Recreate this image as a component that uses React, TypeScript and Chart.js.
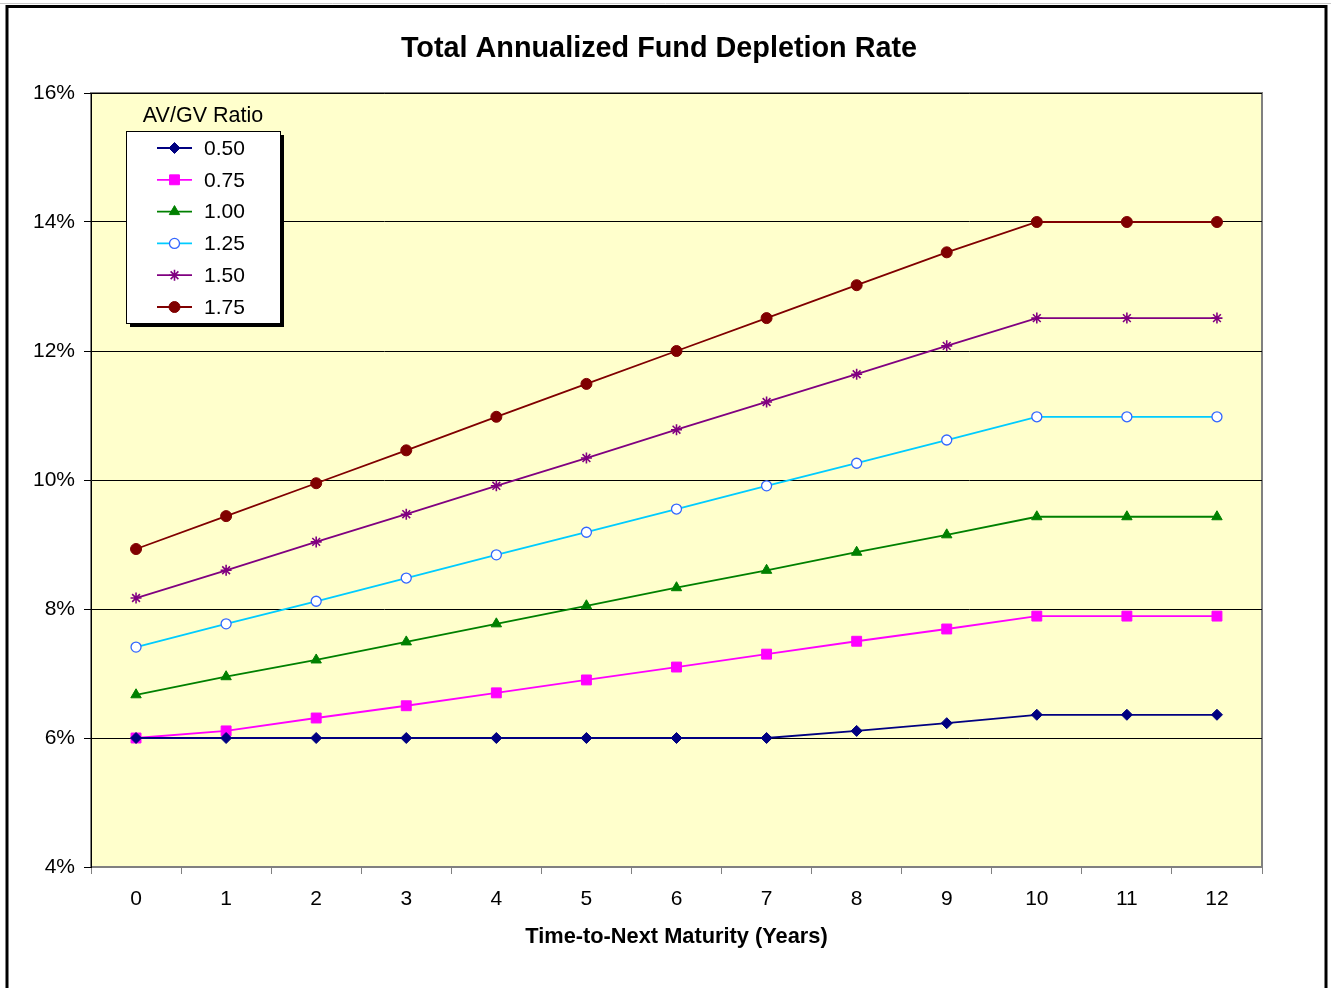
import React, { useEffect, useRef } from 'react';
import { Chart, registerables } from 'chart.js';
import { drawPoint } from 'chart.js/helpers';

Chart.register(...registerables);

const FONT = "'Liberation Sans', Arial, sans-serif";

const chartTitle = 'Total Annualized Fund Depletion Rate';
const xAxisTitle = 'Time-to-Next Maturity (Years)';
const legendTitle = 'AV/GV Ratio';

const years = ['0', '1', '2', '3', '4', '5', '6', '7', '8', '9', '10', '11', '12'];

const seriesLabels = ['0.50', '0.75', '1.00', '1.25', '1.50', '1.75'];

const ratio050 = [6.0, 6.0, 6.0, 6.0, 6.0, 6.0, 6.0, 6.0, 6.11, 6.23, 6.36, 6.36, 6.36];
const ratio075 = [6.0, 6.11, 6.31, 6.5, 6.7, 6.9, 7.1, 7.3, 7.5, 7.69, 7.89, 7.89, 7.89];
const ratio100 = [6.67, 6.95, 7.21, 7.49, 7.77, 8.05, 8.33, 8.6, 8.88, 9.15, 9.43, 9.43, 9.43];
const ratio125 = [7.41, 7.77, 8.12, 8.48, 8.84, 9.19, 9.55, 9.91, 10.26, 10.62, 10.98, 10.98, 10.98];
const ratio150 = [8.17, 8.6, 9.04, 9.47, 9.91, 10.34, 10.78, 11.21, 11.64, 12.08, 12.51, 12.51, 12.51];
const ratio175 = [8.93, 9.44, 9.95, 10.46, 10.98, 11.49, 12.0, 12.51, 13.02, 13.53, 14.0, 14.0, 14.0];

const yMin = 4;
const yMax = 16;
const yStep = 2;

const bgPlugin = {
  id: 'bgPlugin',
  beforeDraw(chart: any) {
    const { ctx, chartArea: a } = chart;
    ctx.save();
    ctx.fillStyle = '#ffffff';
    ctx.fillRect(0, 0, chart.width, chart.height);
    // outer border
    ctx.strokeStyle = '#c8c8c8';
    ctx.lineWidth = 1;
    ctx.beginPath();
    ctx.moveTo(0, 3.5);
    ctx.lineTo(chart.width, 3.5);
    ctx.stroke();
    ctx.strokeStyle = '#000000';
    ctx.lineWidth = 3;
    ctx.strokeRect(7, 6.5, 1319, 1100);
    // plot area
    ctx.fillStyle = '#ffffcc';
    ctx.fillRect(a.left, a.top, a.right - a.left, a.bottom - a.top);
    ctx.strokeStyle = '#808080';
    ctx.lineWidth = 2;
    ctx.strokeRect(a.left, a.top, a.right - a.left, a.bottom - a.top);
    ctx.restore();
  },
  afterDraw(chart: any) {
    const { ctx } = chart;
    ctx.save();
    // chart title
    ctx.fillStyle = '#000';
    ctx.font = `bold 28.8px ${FONT}`;
    ctx.textAlign = 'center';
    ctx.textBaseline = 'middle';
    ctx.fillText(chartTitle, 659, 49.5);

    // legend
    const bx = 126, by = 131, bw = 154, bh = 192;
    ctx.fillStyle = '#000';
    ctx.fillRect(bx + 4, by + 4, bw, bh);
    ctx.fillStyle = '#fff';
    ctx.fillRect(bx, by, bw, bh);
    ctx.strokeStyle = '#000';
    ctx.lineWidth = 1;
    ctx.strokeRect(bx + 0.5, by + 0.5, bw, bh);
    ctx.fillStyle = '#000';
    ctx.font = `21.5px ${FONT}`;
    ctx.textAlign = 'center';
    ctx.fillText(legendTitle, 203, 116);
    ctx.textAlign = 'left';
    chart.data.datasets.forEach((ds: any, i: number) => {
      const y = 148 + i * 31.8;
      ctx.strokeStyle = ds.borderColor;
      ctx.lineWidth = ds.borderWidth;
      ctx.beginPath();
      ctx.moveTo(157, y);
      ctx.lineTo(192, y);
      ctx.stroke();
      ctx.fillStyle = ds.pointBackgroundColor;
      ctx.strokeStyle = ds.pointBorderColor;
      ctx.lineWidth = ds.pointBorderWidth;
      drawPoint(ctx, { pointStyle: ds.pointStyle, radius: ds.pointRadius, rotation: 0, borderWidth: ds.pointBorderWidth }, 174.5, y);
      ctx.fillStyle = '#000';
      ctx.font = `21px ${FONT}`;
      ctx.fillText(ds.label, 204, y + 1);
    });
    ctx.restore();
  },
};

export default function App() {
  const ref = useRef<HTMLCanvasElement>(null);
  useEffect(() => {
    const mk = (label: string, data: number[], color: string, style: string, radius: number, bg: string, border: string, bw: number) => ({
      label,
      data,
      borderColor: color,
      backgroundColor: color,
      borderWidth: 1.8,
      pointStyle: style,
      pointRadius: radius,
      pointHoverRadius: radius,
      pointBackgroundColor: bg,
      pointBorderColor: border,
      pointBorderWidth: bw,
      tension: 0,
      fill: false,
    });
    const chart = new Chart(ref.current!, {
      type: 'line',
      data: {
        labels: years,
        datasets: [
          mk(seriesLabels[0], ratio050, '#000080', 'rectRot', 5.5, '#000080', '#000080', 1),
          mk(seriesLabels[1], ratio075, '#ff00ff', 'rect', 7, '#ff00ff', '#ff00ff', 1),
          mk(seriesLabels[2], ratio100, '#008000', 'triangle', 6, '#008000', '#008000', 1),
          mk(seriesLabels[3], ratio125, '#00ccff', 'circle', 5, '#ffffff', '#3366ff', 1.3),
          mk(seriesLabels[4], ratio150, '#800080', 'star', 5.5, '#800080', '#800080', 1.6),
          mk(seriesLabels[5], ratio175, '#800000', 'circle', 5.5, '#800000', '#800000', 1),
        ],
      },
      options: {
        animation: false,
        responsive: false,
        maintainAspectRatio: false,
        layout: { padding: { left: 0, right: 69, top: 93, bottom: 0 } },
        plugins: { legend: { display: false }, title: { display: false }, tooltip: { enabled: false } },
        scales: {
          x: {
            offset: true,
            grid: { offset: true, drawOnChartArea: false, tickLength: 7, color: '#808080', lineWidth: 1 },
            border: { color: '#808080', width: 1 },
            ticks: { color: '#000', font: { family: FONT, size: 21 }, padding: 12.5, maxRotation: 0, autoSkip: false },
            title: {
              display: true,
              text: xAxisTitle,
              color: '#000',
              font: { family: FONT, size: 21.8, weight: 'bold' },
              padding: { top: 0, bottom: 38 },
            },
            afterFit: (s: any) => { s.height = 121; },
          },
          y: {
            min: yMin,
            max: yMax,
            ticks: {
              stepSize: yStep,
              color: '#000',
              font: { family: FONT, size: 21 },
              padding: 9,
              callback: (v: any) => `${v}%`,
            },
            grid: { color: '#000', lineWidth: 1, tickLength: 7, tickColor: '#000' },
            border: { color: '#000', width: 1 },
            afterFit: (s: any) => { s.width = 91; },
          },
        },
      },
      plugins: [bgPlugin],
    } as any);
    return () => chart.destroy();
  }, []);
  return (
    <div style={{ position: 'fixed', left: 0, top: 0, width: 1331, height: 988 }}>
      <canvas ref={ref} width={1331} height={988} style={{ display: 'block', width: 1331, height: 988 }} />
    </div>
  );
}
